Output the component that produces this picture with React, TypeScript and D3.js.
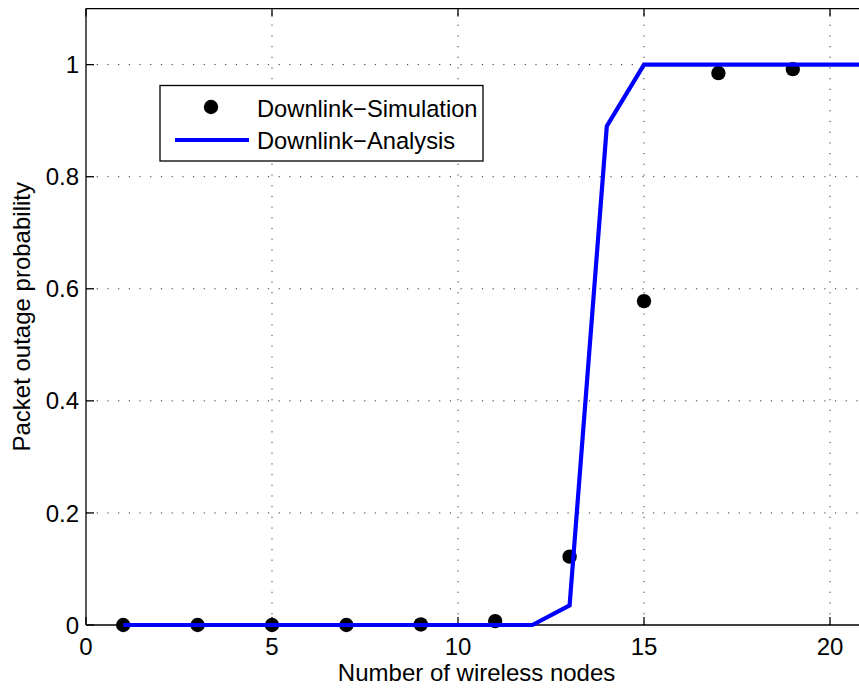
import React from "react";
import * as d3 from "d3";

// Number of wireless nodes where the simulation was sampled
const simNodes = [1, 3, 5, 7, 9, 11, 13, 15, 17, 19];
const simOutage = [0, 0, 0, 0, 0.001, 0.007, 0.122, 0.578, 0.985, 0.992];

// Analytical curve
const anaNodes = [1, 2, 3, 4, 5, 6, 7, 8, 9, 10, 11, 12, 13, 14, 15, 16, 17, 18, 19, 20, 21];
const anaOutage = [0, 0, 0, 0, 0, 0, 0, 0, 0, 0, 0, 0, 0.035, 0.89, 1, 1, 1, 1, 1, 1, 1];

const xTicks = [0, 5, 10, 15, 20];
const yTicks = [0, 0.2, 0.4, 0.6, 0.8, 1];
const yTickLabels = ["0", "0.2", "0.4", "0.6", "0.8", "1"];

const legendLabels = ["Downlink\u2212Simulation", "Downlink\u2212Analysis"];

const W = 859;
const H = 688;
const FONT = "'Liberation Sans', Arial, Helvetica, sans-serif";

export default function App() {
  const x = d3.scaleLinear().domain([0, 21]).range([86, 867.2]);
  const y = d3.scaleLinear().domain([0, 1.1]).range([625, 8.6]);
  const x0 = x(0);
  const y0 = y(0);
  const yTop = y(1.1);
  const xRight = x(21);

  const line = d3
    .line<number>()
    .x((_, i) => x(anaNodes[i]))
    .y((d) => y(d));

  const tickLen = 8;
  const gridDash = "1.2 9.5";

  return (
    <svg
      width={W}
      height={H}
      style={{ position: "absolute", left: 0, top: 0, background: "#fff" }}
      fontFamily={FONT}
    >
      <rect x={0} y={0} width={W} height={H} fill="#fff" />

      {/* grid */}
      <g stroke="#333" strokeWidth={1} strokeDasharray={gridDash}>
        {xTicks
          .filter((t) => t !== 0)
          .map((t) => (
            <line key={"gx" + t} x1={x(t)} x2={x(t)} y1={y0} y2={yTop} />
          ))}
        {yTicks
          .filter((t) => t !== 0)
          .map((t) => (
            <line key={"gy" + t} x1={x0} x2={xRight} y1={y(t)} y2={y(t)} />
          ))}
      </g>

      {/* axes box */}
      <g stroke="#000" strokeWidth={1.3} fill="none">
        <line x1={x0} x2={xRight} y1={y0} y2={y0} />
        <line x1={x0} x2={xRight} y1={yTop} y2={yTop} />
        <line x1={x0} x2={x0} y1={y0} y2={yTop} />
        <line x1={xRight} x2={xRight} y1={y0} y2={yTop} />
        {xTicks.map((t) => (
          <g key={"tx" + t}>
            <line x1={x(t)} x2={x(t)} y1={y0} y2={y0 - tickLen} />
            <line x1={x(t)} x2={x(t)} y1={yTop} y2={yTop + tickLen} />
          </g>
        ))}
        {yTicks.map((t) => (
          <g key={"ty" + t}>
            <line x1={x0} x2={x0 + tickLen} y1={y(t)} y2={y(t)} />
            <line x1={xRight} x2={xRight - tickLen} y1={y(t)} y2={y(t)} />
          </g>
        ))}
      </g>

      {/* tick labels */}
      <g fontSize={24} fill="#000">
        {xTicks.map((t) => (
          <text key={"lx" + t} x={x(t)} y={654.5} textAnchor="middle">
            {t}
          </text>
        ))}
        {yTicks.map((t, i) => (
          <text key={"ly" + t} x={79} y={y(t)} dy="0.36em" textAnchor="end">
            {yTickLabels[i]}
          </text>
        ))}
      </g>

      {/* axis titles */}
      <text x={(x0 + xRight) / 2} y={681} fontSize={24} textAnchor="middle">
        Number of wireless nodes
      </text>
      <text
        transform={`translate(30, ${(y0 + yTop) / 2}) rotate(-90)`}
        fontSize={24}
        textAnchor="middle"
      >
        Packet outage probability
      </text>

      {/* simulation markers */}
      <g fill="#000">
        {simNodes.map((n, i) => (
          <circle key={"s" + n} cx={x(n)} cy={y(simOutage[i])} r={7.2} />
        ))}
      </g>

      {/* analysis curve */}
      <path
        d={line(anaOutage) || ""}
        fill="none"
        stroke="#0000ff"
        strokeWidth={4.2}
        strokeLinejoin="miter"
      />

      {/* legend */}
      <g>
        <rect x={160} y={85.5} width={323} height={75.5} fill="#fff" stroke="#000" strokeWidth={1.3} />
        <circle cx={211} cy={107} r={7.2} fill="#000" />
        <line x1={175} x2={249} y1={140} y2={140} stroke="#0000ff" strokeWidth={4.2} />
        <text x={257} y={116.5} fontSize={23.7}>
          {legendLabels[0]}
        </text>
        <text x={257} y={148.5} fontSize={23.7}>
          {legendLabels[1]}
        </text>
      </g>
    </svg>
  );
}
